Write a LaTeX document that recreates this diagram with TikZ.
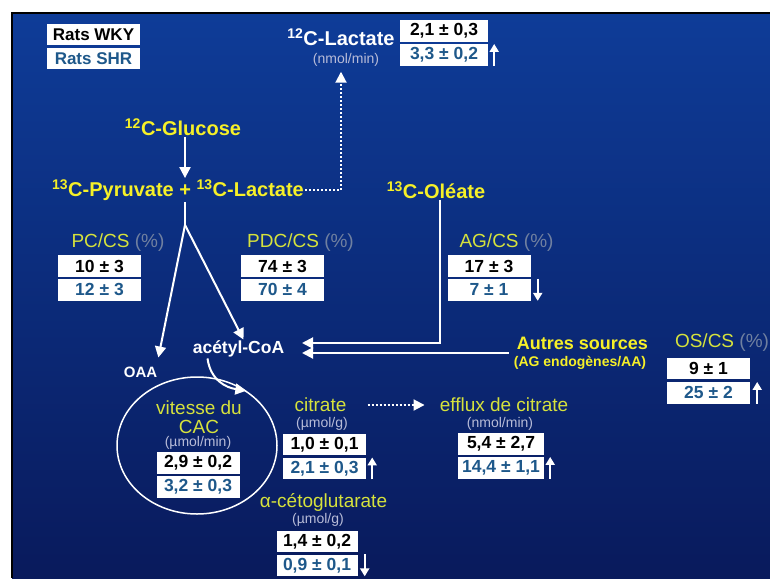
\documentclass[tikz,border=0pt]{standalone}
\usepackage{fontspec}
\setmainfont{Liberation Sans}
\usetikzlibrary{positioning, arrows.meta, shapes.geometric}

\definecolor{slidetop}{RGB}{14,60,152}
\definecolor{slidebot}{RGB}{9,26,92}
\definecolor{labyellow}{RGB}{246,240,40}
\definecolor{ratioyellow}{RGB}{214,226,60}
\definecolor{pctgrey}{RGB}{112,128,160}
\definecolor{unitgrey}{RGB}{184,188,216}
\definecolor{shrblue}{RGB}{30,88,138}

\tikzset{
    substrate/.style={text=labyellow, inner sep=1pt, font=\fontsize{20}{22}\selectfont\bfseries},
    metab/.style={text=white, inner sep=1pt, font=\fontsize{17.5}{19}\selectfont\bfseries},
    ratio/.style={text=ratioyellow, inner sep=1pt, font=\fontsize{19}{21}\selectfont},
    unit/.style={text=unitgrey, inner sep=1pt, font=\fontsize{14}{16}\selectfont},
    legend/.style={fill=white, minimum width=93pt, minimum height=21pt, inner sep=0pt, font=\fontsize{17}{18}\selectfont\bfseries},
    val/.style={fill=white, minimum width=83pt, minimum height=21.5pt, inner sep=0pt, font=\fontsize{17.5}{18}\selectfont\bfseries},
    wky/.style={val, text=black},
    shr/.style={val, text=shrblue},
    line/.style={draw=white, line width=2pt},
    flux/.style={line, -{Triangle[length=11pt, width=11pt]}},
    leak/.style={draw=white, line width=2pt, dash pattern=on 2pt off 2pt, -{Triangle[length=11pt, width=11pt]}},
    trend/.style={draw=white, line width=2pt, -{Triangle[length=8pt, width=9pt]}}
}

\begin{document}
\begin{tikzpicture}[x=1pt, y=-1pt]
    % slide
    \useasboundingbox (0,0) rectangle (770,578);
    \fill [white] (0,0) rectangle (770,578);
    \shade [top color=slidetop, bottom color=slidebot] (12,13) rectangle (770,578);
    \draw [black, line width=1.5pt] (12,578) -- (12,13) -- (770,13);

    % legend
    \node (wkyleg) [legend, text=black] at (93.5,34.5) {Rats WKY};
    \node (shrleg) [legend, text=shrblue, below=2.5pt of wkyleg] {Rats SHR};

    % lactate released
    \node (lac12) [metab, font=\fontsize{20}{22}\selectfont\bfseries] at (341,37) {\textsuperscript{12}C-Lactate};
    \node (lacunit) [unit] at (346,60) {(nmol/min)};
    \node (lacw) [wky, minimum width=88pt] at (444,31) {2,1 ± 0,3};
    \node (lacs) [shr, minimum width=88pt, below=2pt of lacw] {3,3 ± 0,2};
    \draw [trend] ([xshift=6pt]lacs.south east) -- ([xshift=6pt]lacs.north east);

    % substrates
    \node (glc) [substrate] at (183,127) {\textsuperscript{12}C-Glucose};
    \node (pyr) [substrate] at (178,190) {\textsuperscript{13}C-Pyruvate + \textsuperscript{13}C-Lactate};
    \node (ole) [substrate] at (436,190) {\textsuperscript{13}C-Oléate};
    \coordinate (fork) at (185,225);

    % ratios
    \node (pcl) [ratio] at (118,243) {PC/CS \textcolor{pctgrey}{(\%)}};
    \node (pcw) [wky] at (99.5,266) {10 ± 3};
    \node (pcs) [shr, below=2pt of pcw] {12 ± 3};

    \node (pdcl) [ratio] at (300.5,243) {PDC/CS \textcolor{pctgrey}{(\%)}};
    \node (pdcw) [wky] at (282.5,266) {74 ± 3};
    \node (pdcs) [shr, below=2pt of pdcw] {70 ± 4};

    \node (agl) [ratio] at (506.5,243) {AG/CS \textcolor{pctgrey}{(\%)}};
    \node (agw) [wky] at (489,266) {17 ± 3};
    \node (ags) [shr, below=2pt of agw] {7 ± 1};
    \draw [trend] ([xshift=7pt]ags.north east) -- ([xshift=7pt]ags.south east);

    % acetyl-CoA and other sources
    \node (acoa) [metab] at (238.5,349) {acétyl-CoA};
    \node (oaa) [metab, font=\fontsize{15}{17}\selectfont\bfseries] at (140.5,372) {OAA};
    \coordinate (acin) at (302,348);
    \node (autres) [substrate, font=\fontsize{18}{20}\selectfont\bfseries] at (582.5,343) {Autres sources};
    \node (endo) [substrate, font=\fontsize{14}{16}\selectfont\bfseries] at (580,363) {(AG endogènes/AA)};

    \node (osl) [ratio] at (722,343) {OS/CS \textcolor{pctgrey}{(\%)}};
    \node (osw) [wky] at (708.5,368.5) {9 ± 1};
    \node (oss) [shr, below=2.5pt of osw] {25 ± 2};
    \draw [trend] ([xshift=7pt]oss.south east) -- ([xshift=7pt]oss.north east);

    % Krebs cycle
    \node (cac) [ellipse, draw=white, line width=1.5pt, minimum width=160pt, minimum height=137pt] at (197,445.5) {};
    \node (cacl) [ratio, align=center, font=\fontsize{19}{18.5}\selectfont] at (199,417) {vitesse du\\CAC};
    \node (cacunit) [unit] at (198,443) {(µmol/min)};
    \node (cacw) [wky] at (198,463) {2,9 ± 0,2};
    \node (cacs) [shr, below=2pt of cacw] {3,2 ± 0,3};

    \node (cit) [ratio] at (320.5,405) {citrate};
    \node (citunit) [unit] at (322,424) {(µmol/g)};
    \node (citw) [wky] at (324.5,444.5) {1,0 ± 0,1};
    \node (cits) [shr, below=2pt of citw] {2,1 ± 0,3};
    \draw [trend] ([xshift=6pt]cits.south east) -- ([xshift=6pt]cits.north east);

    \node (eff) [ratio] at (504,405) {efflux de citrate};
    \node (effunit) [unit] at (500,424) {(nmol/min)};
    \node (effw) [wky, minimum width=86pt] at (501,444) {5,4 ± 2,7};
    \node (effs) [shr, minimum width=86pt, below=2pt of effw] {14,4 ± 1,1};
    \draw [trend] ([xshift=6pt]effs.south east) -- ([xshift=6pt]effs.north east);

    \node (akg) [ratio] at (323.5,502) {α-cétoglutarate};
    \node (akgunit) [unit] at (318,520) {(µmol/g)};
    \node (akgw) [wky, minimum width=81pt] at (317,541.5) {1,4 ± 0,2};
    \node (akgs) [shr, minimum width=81pt, below=2pt of akgw] {0,9 ± 0,1};
    \draw [trend] ([xshift=7pt]akgs.north east) -- ([xshift=7pt]akgs.south east);

    % fluxes
    \draw [flux] (glc.south -| fork) -- (pyr.north -| fork);
    \draw [line] (pyr.south -| fork) -- (fork);
    \draw [flux] (fork) -- ([yshift=8pt]oaa.north east);
    \draw [flux] (fork) -- ([xshift=5pt]acoa.north);
    \draw [flux] ([xshift=4pt]ole.south) |- ([yshift=5pt]acin);
    \draw [flux] ([xshift=-7pt, yshift=-10pt]autres.west) -- ([yshift=-5pt]acin);
    \draw [flux] ([xshift=-31pt]acoa.south) .. controls +(3,22) and +(-20,-3) .. (cac.48);
    \draw [leak, shorten >=4pt] (pyr.east) -| ([xshift=-5pt]lacunit.south);
    \draw [leak, shorten <=20pt, shorten >=14pt] (cit.east) -- (eff.west);
\end{tikzpicture}
\end{document}
